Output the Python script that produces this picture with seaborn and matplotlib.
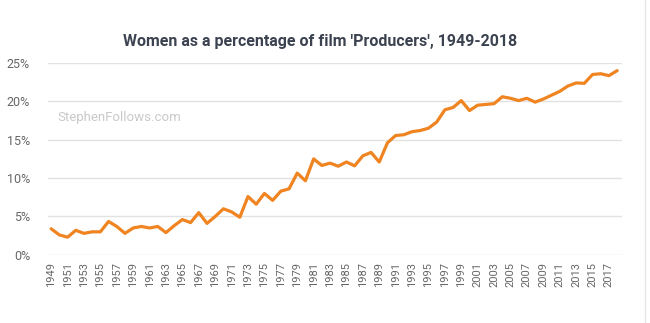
import matplotlib
matplotlib.use("Agg")
import matplotlib.pyplot as plt
from matplotlib.lines import Line2D
import seaborn as sns
import pandas as pd

years = list(range(1949, 2019))
women_pct = [
    3.4, 2.6, 2.3, 3.2, 2.8, 3.0, 3.0, 4.35, 3.7, 2.8,
    3.5, 3.7, 3.5, 3.7, 2.9, 3.8, 4.6, 4.2, 5.5, 4.1,
    5.0, 6.0, 5.6, 4.9, 7.6, 6.6, 8.0, 7.1, 8.3, 8.6,
    10.65, 9.65, 12.5, 11.65, 11.95, 11.55, 12.1, 11.6, 12.9, 13.35,
    12.1, 14.6, 15.55, 15.65, 16.05, 16.2, 16.5, 17.3, 18.9, 19.2,
    20.1, 18.8, 19.5, 19.6, 19.7, 20.6, 20.4, 20.1, 20.4, 19.9,
    20.3, 20.8, 21.3, 22.0, 22.4, 22.35, 23.5, 23.6, 23.35, 24.0,
]
y_ticks = [0, 5, 10, 15, 20, 25]
y_tick_labels = ["0%", "5%", "10%", "15%", "20%", "25%"]
x_tick_years = years[::2]

df = pd.DataFrame({"year": years, "pct": women_pct})

sns.set_theme(style="white")
plt.rcParams["font.family"] = ["Roboto", "DejaVu Sans"]

fig = plt.figure(figsize=(6.5, 3.23), dpi=100)
ax = fig.add_axes([0.074, 0.211, 0.883, 0.594])

sns.lineplot(data=df, x="year", y="pct", ax=ax, color="#ef8421",
             linewidth=2.3, zorder=3)

ax.set_xlim(1948.63, 2018.6)
ax.set_ylim(0, 25)
ax.set_yticks(y_ticks)
ax.set_yticklabels(y_tick_labels)
ax.set_xticks(x_tick_years)
ax.set_xticklabels([str(y) for y in x_tick_years], rotation=90)
ax.tick_params(axis="y", labelsize=9, colors="#666666", length=0, pad=13)
ax.tick_params(axis="x", labelsize=8, colors="#666666", length=0, pad=5)
ax.grid(axis="y", color="#e2e2e2", linewidth=1)
ax.set_axisbelow(True)
for s in ax.spines.values():
    s.set_visible(False)
ax.set_xlabel("")
ax.set_ylabel("")

fig.text(0.492, 0.873, "Women as a percentage of film 'Producers', 1949-2018",
         ha="center", va="center", fontsize=11.5, fontweight="bold",
         color="#3c4350")
fig.text(0.088, 0.636, "StephenFollows.com", ha="left", va="center",
         fontsize=9.5, color="#c9c9c9")

# thin card edge on the right
fig.add_artist(Line2D([0.992, 0.992], [0, 1], transform=fig.transFigure,
                      color="#e6e6e6", linewidth=1))

fig.savefig("out.png", dpi=100)
